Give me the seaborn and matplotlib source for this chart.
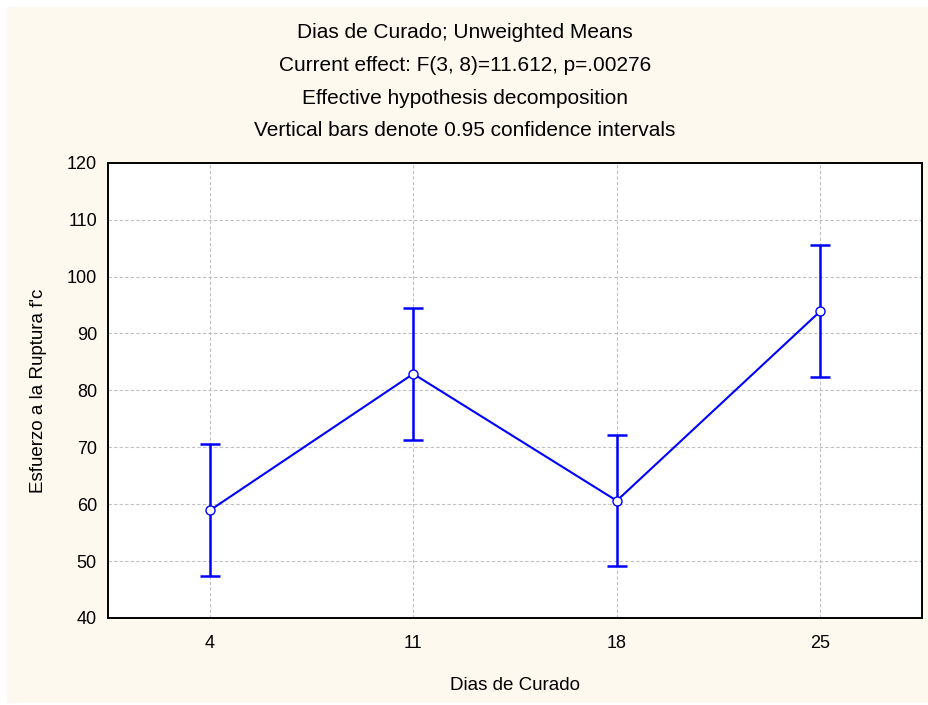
import matplotlib
matplotlib.use("Agg")
import matplotlib.pyplot as plt
import seaborn as sns
import numpy as np
import pandas as pd
from matplotlib.patches import Rectangle

days = [4, 11, 18, 25]
means = [58.9, 82.9, 60.6, 93.9]
lower = [47.4, 71.3, 49.1, 82.3]
upper = [70.5, 94.4, 72.2, 105.5]

title_lines = [
    "Dias de Curado; Unweighted Means",
    "Current effect: F(3, 8)=11.612, p=.00276",
    "Effective hypothesis decomposition",
    "Vertical bars denote 0.95 confidence intervals",
]
x_label = "Dias de Curado"
y_label = "Esfuerzo a la Ruptura f'c"
y_ticks = [40, 50, 60, 70, 80, 90, 100, 110, 120]

sns.set_style("white")
plt.rcParams['font.family'] = ['Liberation Sans', 'DejaVu Sans']
plt.rcParams['text.color'] = 'black'
plt.rcParams['axes.labelcolor'] = 'black'

W, H = 929, 705
fig = plt.figure(figsize=(W / 100, H / 100), dpi=100, facecolor="white")
fig.patches.append(Rectangle((7 / W, 2 / H), 1 - 7 / W, 1 - 9 / H,
                             transform=fig.transFigure, facecolor="#fef9ef",
                             edgecolor="none", zorder=-5))

ax = fig.add_axes([108 / W, 1 - 618 / H, (922 - 108) / W, (618 - 162.7) / H])
ax.set_zorder(2)
ax.set_facecolor("white")

df = pd.DataFrame({"days": days, "mean": means, "lower": lower, "upper": upper})
yerr = [df["mean"] - df["lower"], df["upper"] - df["mean"]]
ax.errorbar(df["days"], df["mean"], yerr=yerr, fmt="none", ecolor="#0000ff",
            elinewidth=1.8, capsize=7.5, capthick=1.8, zorder=3)
sns.lineplot(data=df, x="days", y="mean", ax=ax, color="#0000ff", linewidth=1.5,
             marker="o", markersize=6.5, markerfacecolor="white",
             markeredgecolor="#0000ff", markeredgewidth=1.0, zorder=4)

ax.set_xlim(0.5, 28.5)
ax.set_ylim(40, 120)
ax.set_xticks(days)
ax.set_xticklabels([str(d) for d in days])
ax.set_yticks(y_ticks)
ax.grid(True, color="#c0c0c0", linestyle=(0, (3, 2)), linewidth=0.8)
ax.set_axisbelow(True)
for s in ax.spines.values():
    s.set_color("black")
    s.set_linewidth(1.4)
ax.tick_params(direction="in", length=4, width=1, colors="black", labelsize=13)
ax.tick_params(axis="x", pad=12)
ax.tick_params(axis="y", pad=8)
ax.set_xlabel(x_label, fontsize=13.5, labelpad=18)
ax.set_ylabel(y_label, fontsize=13.5, labelpad=14)

for i, line in enumerate(title_lines):
    fig.text(465 / W, 1 - (33 + i * 32.5) / H, line, ha="center", va="center",
             fontsize=15, color="black")

fig.savefig("out.png", dpi=100, facecolor=fig.get_facecolor())
